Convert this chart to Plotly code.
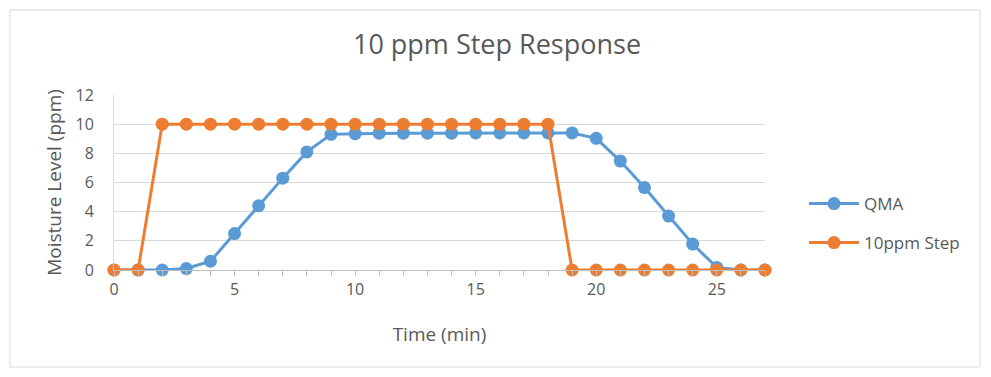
import plotly.graph_objects as go

# data
time_min = list(range(28))
qma = [0, 0, 0, 0.1, 0.6, 2.5, 4.4, 6.3, 8.1, 9.3, 9.35, 9.38, 9.38, 9.38, 9.38, 9.4, 9.4, 9.4,
       9.4, 9.4, 9.03, 7.47, 5.65, 3.7, 1.78, 0.18, 0, 0]
step_10ppm = [0, 0] + [10] * 17 + [0] * 9

blue = '#5b9bd5'
orange = '#ed7d31'
grey_txt = '#595959'

fig = go.Figure()

fig.add_trace(go.Scatter(
    x=time_min, y=qma, name='QMA', mode='lines+markers',
    line=dict(color=blue, width=3), marker=dict(size=13, color=blue),
    cliponaxis=False, legend='legend'
))
fig.add_trace(go.Scatter(
    x=time_min, y=step_10ppm, name='10ppm Step', mode='lines+markers',
    line=dict(color=orange, width=3), marker=dict(size=13, color=orange),
    cliponaxis=False, legend='legend2'
))

font_family = 'Open Sans, Liberation Sans, sans-serif'

# page body has an 8px margin, so the figure is shifted by 8px
W, H = 975, 361
L, T = 106, 87
PW, PH = 651, 175

fig.update_layout(
    width=W, height=H,
    margin=dict(l=L, r=W - L - PW, t=T, b=H - T - PH),
    paper_bgcolor='white', plot_bgcolor='white',
    font=dict(family=font_family, color=grey_txt, size=16),
    title=dict(text='10 ppm Step Response', x=(497 - 8 - L) / PW, xref='paper', xanchor='center',
               y=1 - 37 / H, yanchor='middle',
               font=dict(size=27, color=grey_txt)),
    xaxis=dict(
        range=[0, 27], tickmode='linear', tick0=0, dtick=5,
        showgrid=False, zeroline=False,
        showline=True, linecolor='#bfbfbf', linewidth=1,
        ticks='outside', ticklen=5, tickcolor='#bfbfbf',
        minor=dict(dtick=1, ticks='outside', ticklen=5, tickcolor='#bfbfbf', showgrid=False),
        tickfont=dict(size=16, color=grey_txt),
        title=dict(text='Time (min)', font=dict(size=19, color=grey_txt), standoff=28),
    ),
    yaxis=dict(
        range=[0, 12], tickmode='linear', tick0=0, dtick=2,
        showgrid=True, gridcolor='#d9d9d9', gridwidth=1, zeroline=False,
        showline=True, linecolor='#d9d9d9', linewidth=1,
        ticks='', tickfont=dict(size=16, color=grey_txt), ticklabelstandoff=16,
        title=dict(text='Moisture Level (ppm)', font=dict(size=19, color=grey_txt), standoff=8),
    ),
    legend=dict(x=(804 - 8 - L) / PW, y=(270 - 204) / PH, xanchor='left', yanchor='middle',
                itemwidth=50, font=dict(size=17, color=grey_txt), bgcolor='rgba(0,0,0,0)'),
    legend2=dict(x=(804 - 8 - L) / PW, y=(270 - 243) / PH, xanchor='left', yanchor='middle',
                 itemwidth=50, font=dict(size=17, color=grey_txt), bgcolor='rgba(0,0,0,0)'),
    showlegend=True,
)

# outer chart border
fig.add_shape(type='rect', xref='paper', yref='paper',
              x0=(10 - 8 - L) / PW, x1=(980 - 8 - L) / PW,
              y0=(270 - 367) / PH, y1=(270 - 10) / PH,
              line=dict(color='#d9d9d9', width=1), layer='below')

fig.write_html('out.html')
